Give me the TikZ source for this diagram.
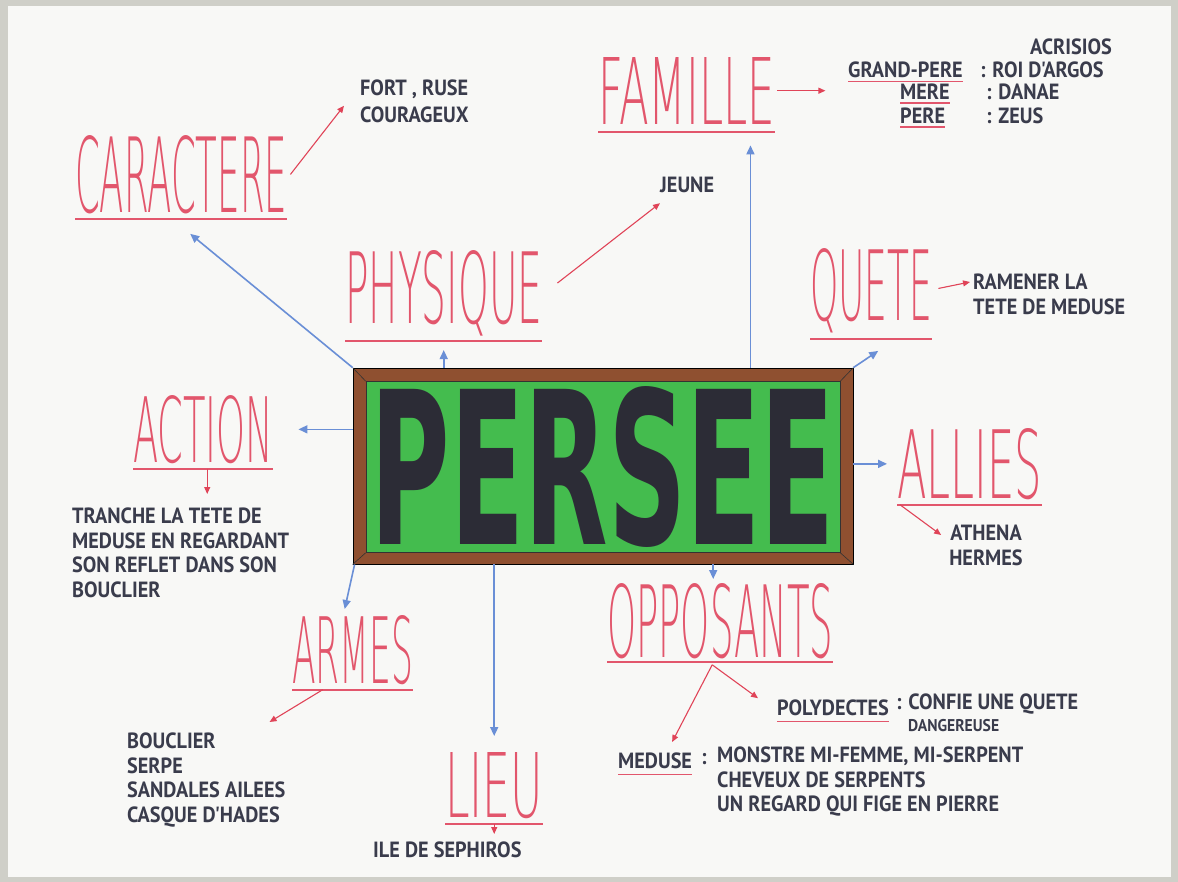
\documentclass[tikz,border=0pt]{standalone}
\usepackage{fontspec}
\usepackage{graphicx}
\usetikzlibrary{arrows.meta}
\newfontfamily\hand[FakeStretch=0.92]{PT Sans}
\newfontfamily\thinfont{DejaVuSans-ExtraLight.ttf}
\newfontfamily\blockfont{DejaVu Sans}
\definecolor{catred}{HTML}{E2566C}
\definecolor{arrred}{HTML}{E04458}
\definecolor{arrblue}{HTML}{6A8FD6}
\definecolor{ink}{HTML}{3A3C4C}
\definecolor{block}{HTML}{2C2C36}
\definecolor{wood}{HTML}{8F5030}
\definecolor{felt}{HTML}{44BC4E}
\definecolor{paper}{HTML}{F8F8F6}
\definecolor{edge}{HTML}{CFCFC8}
\newcommand{\cattext}[3]{\resizebox{#1pt}{#2pt}{\thinfont #3}}
\tikzset{
  cat/.style={text=catred, inner sep=0pt, anchor=north west},
  txt/.style={text=ink, inner sep=0pt, anchor=north west, align=left,
    font=\hand\bfseries\fontsize{22}{24.5}\selectfont},
  smalltxt/.style={txt, font=\hand\bfseries\fontsize{17}{19}\selectfont},
  toarr/.style={draw=arrblue, line width=1.6pt, -{Triangle[length=9pt,width=8pt]}},
  subarr/.style={draw=arrred, line width=1.1pt, -{Triangle[length=7pt,width=6pt]}},
  uline/.style={draw=catred, line width=2pt}
}
\begin{document}
\begin{tikzpicture}[x=1pt,y=-1pt]
\useasboundingbox (0,0) rectangle (1178,882);
\fill[edge] (0,0) rectangle (1178,882);
\fill[paper] (8,6) rectangle (1171,877);
% cadre central
\node[draw=black, fill=wood, line width=0.8pt, minimum width=500pt, minimum height=196pt] (persee) at (603,466) {};
\node[draw=black!80, fill=felt, line width=0.6pt, inner sep=0pt, minimum width=474pt, minimum height=171pt, text=block] (perseein) at (603,467) {\resizebox{464pt}{158pt}{\blockfont\bfseries PERSEE}};
\foreach \a in {north west, north east, south west, south east}
  \draw[black!80, line width=0.6pt] (persee.\a) -- (perseein.\a);
% rubriques
\node[cat] (caractere) at (75,135) {\cattext{212}{77}{CARACTERE}};
\node[cat] (famille) at (598,57) {\cattext{177}{67}{FAMILLE}};
\node[cat] (physique) at (345,250) {\cattext{197}{73}{PHYSIQUE}};
\node[cat] (quete) at (810,248) {\cattext{122}{72}{QUETE}};
\node[cat] (action) at (133,395) {\cattext{140}{67}{ACTION}};
\node[cat] (allies) at (897,428) {\cattext{145}{70}{ALLIES}};
\node[cat] (opposants) at (607,583) {\cattext{226}{74}{OPPOSANTS}};
\node[cat] (armes) at (292,615) {\cattext{121}{68}{ARMES}};
\node[cat] (lieu) at (445,752) {\cattext{98}{65}{LIEU}};
\foreach \n/\d in {caractere/5pt, famille/8pt, physique/5pt, quete/6pt, action/5pt, allies/5pt, opposants/3pt, armes/5pt, lieu/5pt}
  \draw[uline] ([yshift=-\d]\n.south west) -- ([yshift=-\d]\n.south east);
% textes
\node[txt, font=\hand\bfseries\fontsize{22}{27}\selectfont] (fort) at (360,80) {FORT , RUSE\\COURAGEUX};
\node[txt] (jeune) at (660,177) {JEUNE};
\node[txt] (acrisios) at (1030,39) {ACRISIOS};
\node[txt] (gp) at (848,62) {GRAND-PERE};
\node[txt] (gpval) at (980,62) {: ROI D'ARGOS};
\node[txt] (mere) at (900,84) {MERE};
\node[txt] (mereval) at (986,84) {: DANAE};
\node[txt] (pere) at (900,108) {PERE};
\node[txt] (pereval) at (986,108) {: ZEUS};
\node[txt] (ramener) at (973,274) {RAMENER LA\\TETE DE MEDUSE};
\node[txt, anchor=north, align=center] (athena) at (986,525) {ATHENA\\HERMES};
\node[txt] (tranche) at (72,508) {TRANCHE LA TETE DE\\MEDUSE EN REGARDANT\\SON REFLET DANS SON\\BOUCLIER};
\node[txt] (armlist) at (127,733) {BOUCLIER\\SERPE\\SANDALES AILEES\\CASQUE D'HADES};
\node[txt] (ile) at (373,842) {ILE DE SEPHIROS};
\node[txt] (poly) at (777,700) {POLYDECTES};
\node[txt] (polyval) at (896,694) {: CONFIE UNE QUETE};
\node[smalltxt] (dang) at (908,719) {DANGEREUSE};
\node[txt] (meduse) at (618,753) {MEDUSE};
\node[txt] (medcol) at (701,753) {:};
\node[txt] (medval) at (717,747) {MONSTRE MI-FEMME, MI-SERPENT\\CHEVEUX DE SERPENTS\\UN REGARD QUI FIGE EN PIERRE};
\foreach \n/\d in {gp/3pt, mere/3pt, pere/3pt, poly/5pt, meduse/5pt}
  \draw[uline, line width=1.6pt] ([yshift=-\d]\n.south west) -- ([yshift=-\d]\n.south east);
% fleches bleues
\draw[toarr] (persee.north west) -- ([xshift=9pt,yshift=-20pt]caractere.south);
\draw[toarr] (persee.north -| physique.south) -- ([yshift=-14pt]physique.south);
\coordinate (famtip) at ([xshift=-25pt,yshift=-21pt]famille.south east);
\draw[toarr] (persee.north -| famtip) -- (famtip);
\draw[toarr] (persee.north east) -- ([xshift=7pt,yshift=-18pt]quete.south);
\draw[toarr] (persee.east |- allies.west) -- ([xshift=-10pt]allies.west);
\draw[toarr] (persee.west |- action.east) -- ([xshift=25pt]action.east);
\draw[toarr] ([xshift=2pt]persee.south west) -- ([xshift=-8pt,yshift=6pt]armes.north);
\draw[toarr] (persee.south -| lieu.north) -- ([yshift=16pt]lieu.north);
\coordinate (opptip) at ([xshift=-7pt,yshift=4pt]opposants.north);
\draw[toarr] (persee.south -| opptip) -- (opptip);
% fleches rouges
\draw[subarr] ([xshift=3pt]caractere.east) -- ([xshift=-16pt,yshift=-4pt]fort.west);
\draw[subarr] ([xshift=15pt,yshift=10pt]physique.east) -- ([yshift=-10pt]jeune.south west);
\coordinate (famend) at ([xshift=50pt]famille.east);
\draw[subarr] ([xshift=2pt]famille.east) -- (famend);
\draw[subarr] ([xshift=6pt,yshift=2pt]quete.east) -- ([xshift=-3pt,yshift=-8pt]ramener.north west);
\draw[subarr] ([xshift=3pt,yshift=-5pt]allies.south west) -- ([xshift=-8pt,yshift=-10pt]athena.north west);
\coordinate (actA) at ([xshift=4pt,yshift=-5pt]action.south);
\path ([yshift=14pt]tranche.north) coordinate (actB);
\draw[subarr] (actA) -- (actA |- actB);
\draw[subarr] ([xshift=-30pt,yshift=-5pt]armes.south) -- ([xshift=-16pt,yshift=11pt]armlist.north east);
\coordinate (lieuA) at ([yshift=-5pt]lieu.south);
\path ([yshift=8pt]ile.north) coordinate (lieuB);
\draw[subarr] (lieuA) -- (lieuA |- lieuB);
\coordinate (oppA) at ([xshift=-8pt,yshift=-6pt]opposants.south);
\draw[subarr] (oppA) -- ([xshift=-19pt,yshift=10pt]poly.west);
\draw[subarr] (oppA) -- ([xshift=17pt,yshift=11pt]meduse.north);
\end{tikzpicture}
\end{document}
